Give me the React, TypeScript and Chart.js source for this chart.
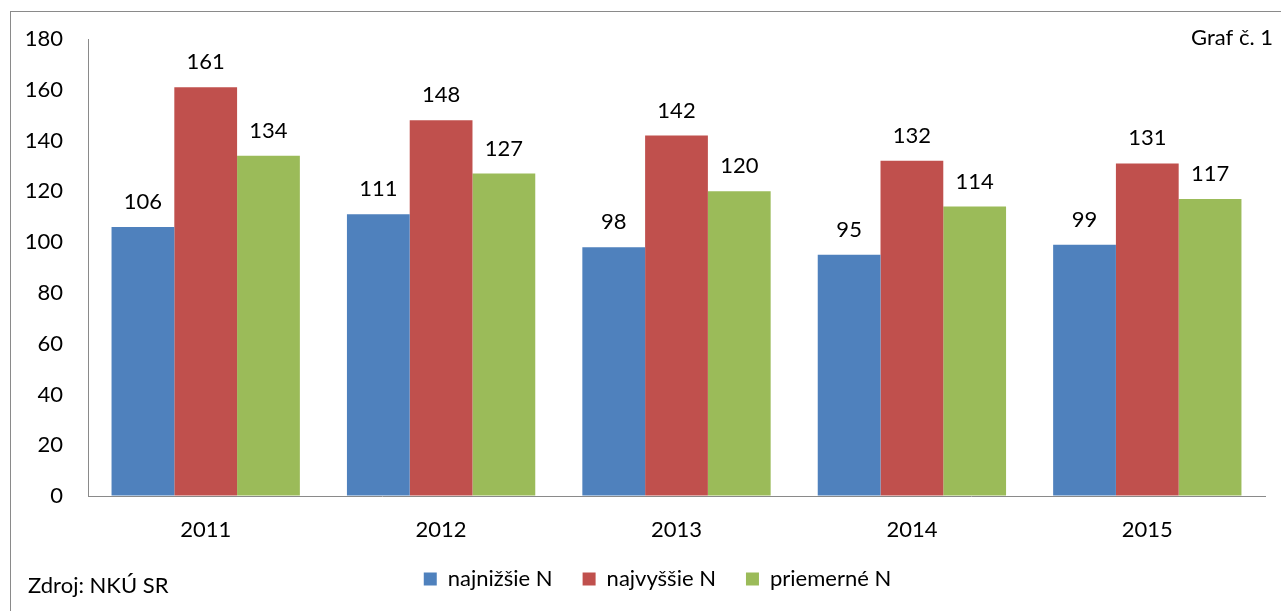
import React, { useEffect, useRef } from "react";
import { Chart, registerables } from "chart.js";

Chart.register(...registerables);

const categories = ["2011", "2012", "2013", "2014", "2015"];
const najnizsie = [106, 111, 98, 95, 99];
const najvyssie = [161, 148, 142, 132, 131];
const priemerne = [134, 127, 120, 114, 117];
const seriesNames = ["najnižšie N", "najvyššie N", "priemerné N"];
const yTicks = [0, 20, 40, 60, 80, 100, 120, 140, 160, 180];

const FONT = "Lato, 'Open Sans', sans-serif";
const FS = 22;

const extrasPlugin = {
  id: "extras",
  afterLayout(chart: any) {
    const lg = chart.legend;
    if (lg) {
      lg.left += 25;
      lg.right += 25;
    }
  },
  afterDatasetsDraw(chart: any) {
    const ctx = chart.ctx;
    ctx.save();
    ctx.font = `${FS}px ${FONT}`;
    ctx.fillStyle = "#000";
    ctx.textAlign = "center";
    ctx.textBaseline = "middle";
    chart.data.datasets.forEach((ds: any, di: number) => {
      const meta = chart.getDatasetMeta(di);
      meta.data.forEach((bar: any, i: number) => {
        ctx.fillText(String(ds.data[i]), bar.x, bar.y - 25);
      });
    });
    ctx.restore();
  },
  afterDraw(chart: any) {
    const ctx = chart.ctx;
    ctx.save();
    ctx.strokeStyle = "#8a8a8a";
    ctx.lineWidth = 1;
    ctx.strokeRect(10.5, 11.5, 1290, 640);
    ctx.font = `${FS}px ${FONT}`;
    ctx.fillStyle = "#000";
    ctx.textBaseline = "middle";
    ctx.textAlign = "right";
    ctx.fillText("Graf č. 1", 1273, 38);
    ctx.textAlign = "left";
    ctx.fillText("Zdroj: NKÚ SR", 28, 586);
    ctx.restore();
  },
};

export default function App() {
  const ref = useRef<HTMLCanvasElement>(null);
  useEffect(() => {
    document.body.style.margin = "0";
    const chart = new Chart(ref.current!, {
      type: "bar",
      data: {
        labels: categories,
        datasets: [
          { label: seriesNames[0], data: najnizsie, backgroundColor: "#4F81BD" },
          { label: seriesNames[1], data: najvyssie, backgroundColor: "#C0504D" },
          { label: seriesNames[2], data: priemerne, backgroundColor: "#9BBB59" },
        ],
      },
      options: {
        animation: false,
        responsive: false,
        maintainAspectRatio: false,
        layout: { padding: { left: 0, right: 16, top: 39, bottom: 11 } },
        datasets: {
          bar: { categoryPercentage: 0.8, barPercentage: 1.0 },
        },
        plugins: {
          tooltip: { enabled: false },
          legend: {
            position: "bottom",
            labels: {
              boxWidth: 13,
              boxHeight: 13,
              padding: 30,
              color: "#000",
              font: { family: FONT, size: FS },
            },
          },
        },
        scales: {
          x: {
            grid: { display: true, drawOnChartArea: false, drawTicks: false },
            border: { display: true, color: "#8a8a8a", width: 1 },
            ticks: { color: "#000", padding: 21, font: { family: FONT, size: FS }, maxRotation: 0 },
            afterFit(scale: any) {
              scale.height = 42;
            },
          },
          y: {
            min: 0,
            max: 180,
            grid: { display: true, drawOnChartArea: false, drawTicks: false },
            border: { display: true, color: "#8a8a8a", width: 1 },
            afterBuildTicks(scale: any) {
              scale.ticks = yTicks.map((v) => ({ value: v }));
            },
            ticks: { color: "#000", padding: 25, font: { family: FONT, size: FS } },
            afterFit(scale: any) {
              scale.width = 88;
            },
          },
        },
      },
      plugins: [extrasPlugin],
    });
    return () => chart.destroy();
  }, []);
  return (
    <div style={{ position: "relative", width: 1281, height: 611 }}>
      <canvas ref={ref} width={1281} height={611} style={{ display: "block" }} />
    </div>
  );
}
